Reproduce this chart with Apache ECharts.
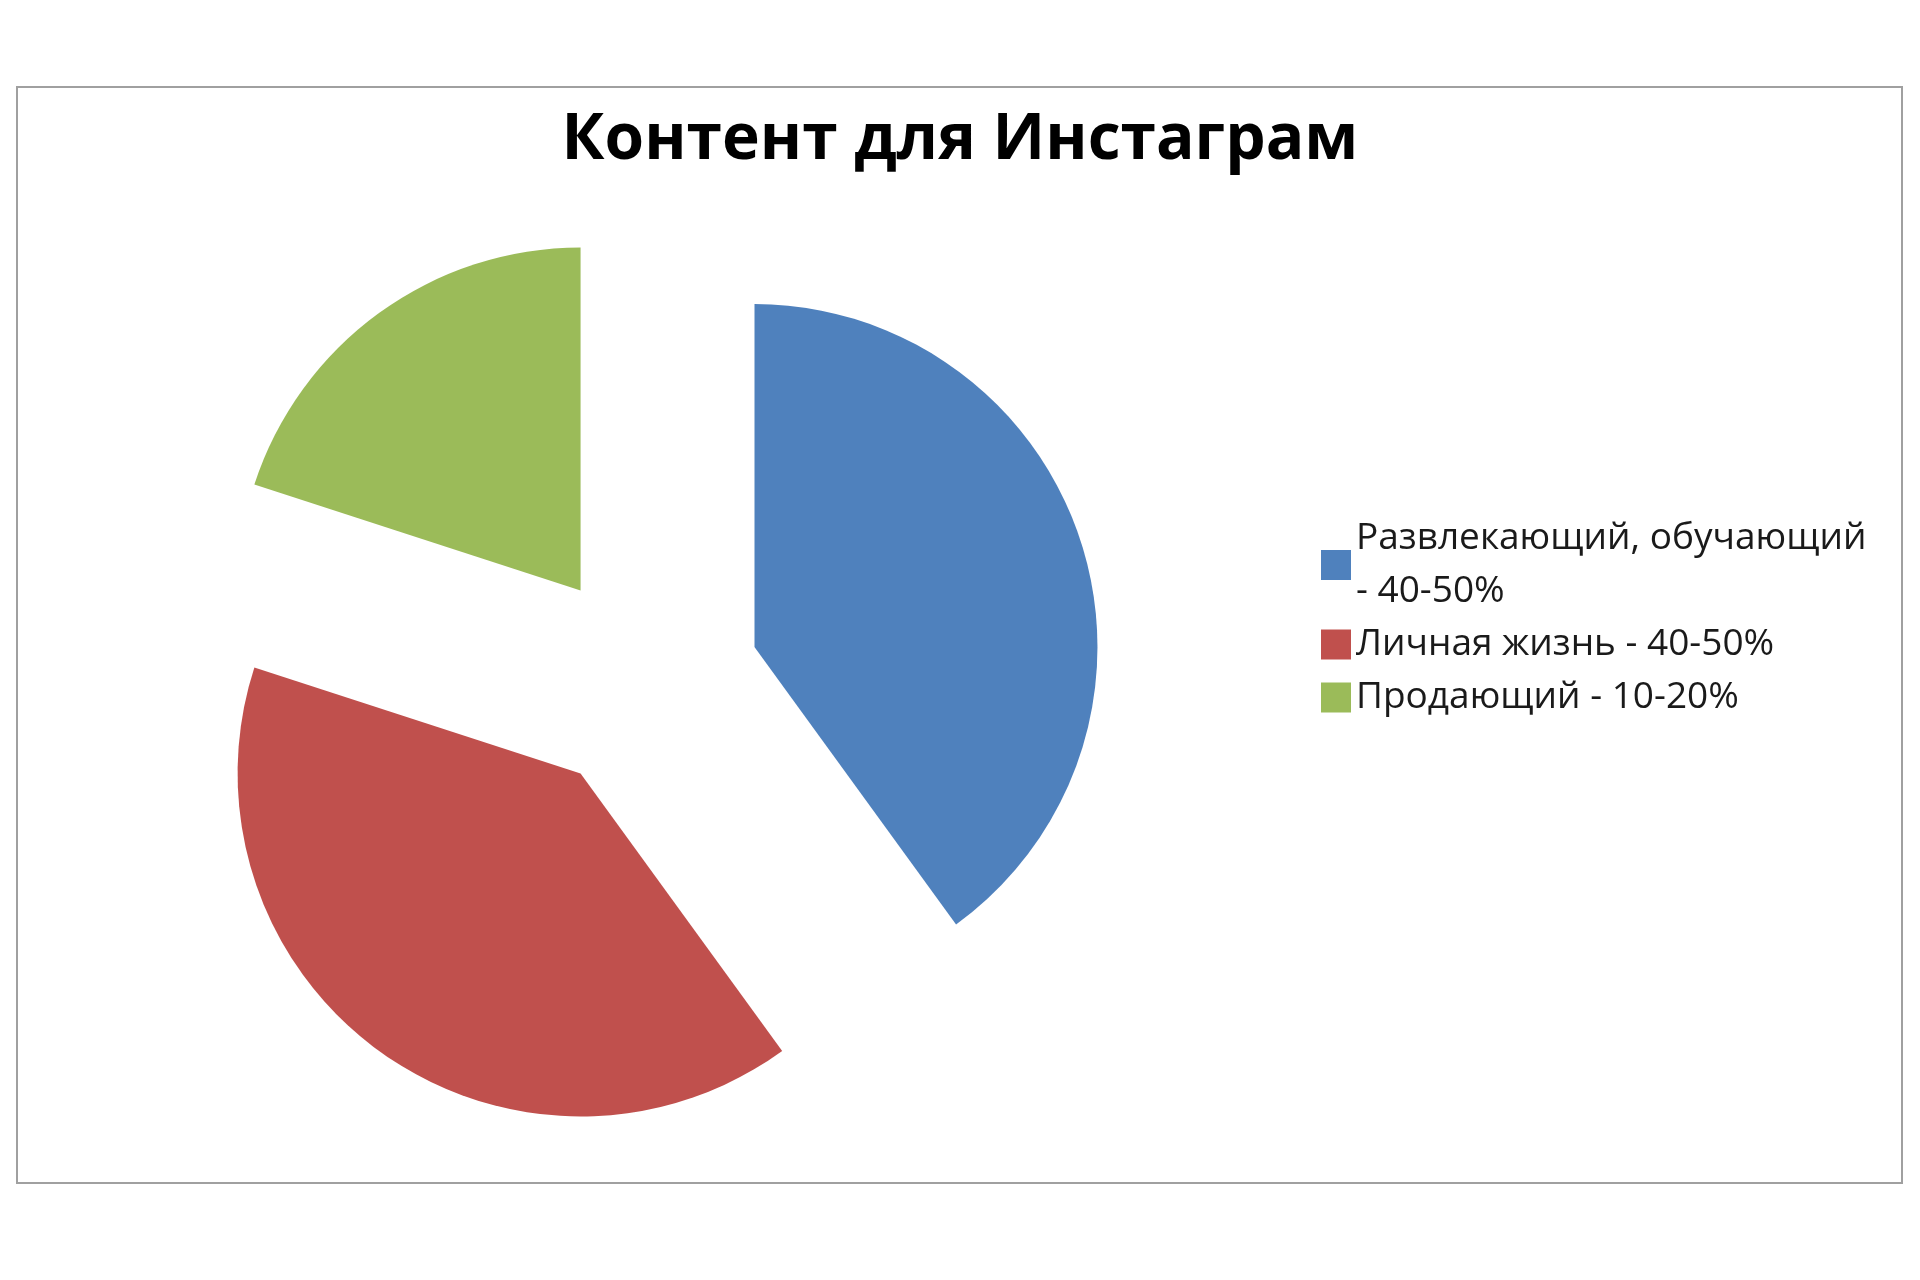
<!DOCTYPE html>
<html>
<head>
<meta charset="utf-8">
<script src="https://cdn.jsdelivr.net/npm/echarts@6/dist/echarts.min.js"></script>
<style>
html,body{margin:0;padding:0;background:#fff;}
#chart{width:1920px;height:1280px;}
</style>
</head>
<body>
<div id="chart"></div>
<script>
const titleText = 'Контент для Инстаграм';
const categories = ['Развлекающий, обучающий\n- 40-50%', 'Личная жизнь - 40-50%', 'Продающий - 10-20%'];
const values = [40, 40, 20];
const colors = ['#4F81BD', '#C0504D', '#9BBB59'];

const chart = echarts.init(document.getElementById('chart'));
chart.setOption({
  backgroundColor: '#ffffff',
  animation: false,
  title: {
    text: titleText,
    left: 'center',
    top: 104,
    textStyle: { fontFamily: 'Open Sans', fontWeight: 'bold', fontSize: 64, color: '#000' }
  },
  legend: {
    orient: 'vertical',
    left: 1316,
    top: 507,
    itemWidth: 30,
    itemHeight: 30,
    itemGap: 0,
    icon: 'rect',
    selectedMode: false,
    textStyle: { fontFamily: 'Open Sans', fontSize: 37, color: '#1a1a1a', lineHeight: 53 },
    data: categories
  },
  graphic: [{
    type: 'rect',
    shape: { x: 17, y: 87, width: 1885, height: 1096 },
    style: { fill: 'none', stroke: '#a0a0a0', lineWidth: 2 },
    silent: true
  }],
  series: [{
    type: 'pie',
    center: [647, 682],
    radius: 343,
    startAngle: 90,
    clockwise: true,
    selectedMode: 'multiple',
    selectedOffset: 113,
    label: { show: false },
    labelLine: { show: false },
    emphasis: { disabled: true },
    select: { itemStyle: { borderWidth: 0 } },
    itemStyle: { borderWidth: 0 },
    data: categories.map((c, i) => ({
      name: c,
      value: values[i],
      selected: true,
      itemStyle: { color: colors[i] },
      select: { itemStyle: { color: colors[i], borderWidth: 0 } }
    }))
  }]
});
</script>
</body>
</html>
